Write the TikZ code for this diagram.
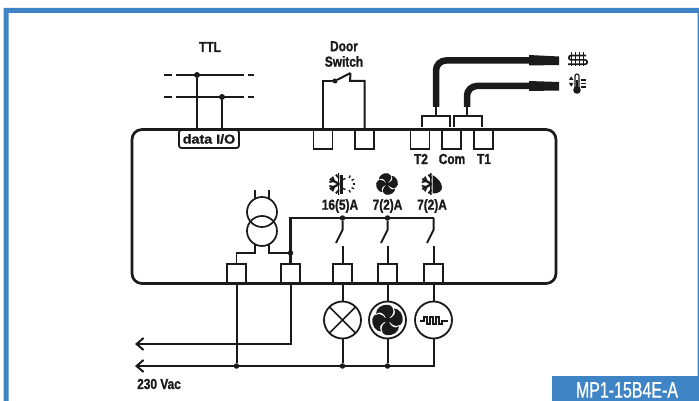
\documentclass[tikz,border=0pt]{standalone}
\usepackage{fontspec}
\usetikzlibrary{arrows.meta}
\newfontfamily\lblfont[FakeStretch=0.82,BoldFeatures={FakeBold=1.2}]{Liberation Sans}
\newfontfamily\wideFont[FakeStretch=1.1,BoldFeatures={FakeBold=1.5}]{Liberation Sans}
\newfontfamily\badgeFont[FakeStretch=0.71,FakeBold=0.8]{Liberation Sans}
\definecolor{frameblue}{HTML}{3F85C6}
\definecolor{ink}{HTML}{1A1A1A}
\newcommand{\halfsnow}[4]{% cx, cy, r, clip right x
  \begin{scope}
    \clip (#1-#3-2,#2-#3-2) rectangle (#4,#2+#3+2);
    \foreach \a in {30,90,150,210,270,330}{
      \begin{scope}[shift={(#1,#2)},rotate=\a]
        \draw[line width=2.3pt,ink] (0,0) -- (#3,0);
        \draw[line width=1.9pt,ink] (#3*0.55,0) -- +(40:#3*0.45);
        \draw[line width=1.9pt,ink] (#3*0.55,0) -- +(-40:#3*0.45);
      \end{scope}}
  \end{scope}}
\newcommand{\fanshape}[3]{% cx, cy, r
  \foreach \a in {0,90,180,270}{
    \begin{scope}[shift={(#1,#2)},rotate=\a,x=#3pt,y=#3pt]
      \fill[ink] (0.05,-0.05) .. controls (-0.5,-0.28) and (-0.52,-0.88) .. (-0.05,-0.98)
        .. controls (0.35,-1.04) and (0.76,-0.74) .. (0.74,-0.4)
        .. controls (0.5,-0.6) and (0.22,-0.46) .. (0.05,-0.05) -- cycle;
    \end{scope}}
  \fill[ink] (#1,#2) circle (#3*0.2pt);}
\tikzset{
  term/.style={draw=ink,line width=1.5pt,minimum width=19pt,minimum height=19pt,inner sep=0pt,outer sep=0pt},
  lbl/.style={inner sep=0pt,text=ink,font=\lblfont\bfseries\fontsize{14.5}{16}\selectfont,align=center},
  wire/.style={draw=ink,line width=2pt},
  thickwire/.style={draw=ink,line width=2.5pt},
  cable/.style={draw=ink,line width=6.5pt,rounded corners=10pt},
  dot/.style={circle,fill=ink,minimum size=6pt,inner sep=0pt,outer sep=0pt},
  load/.style={circle,draw=ink,line width=1.8pt,minimum size=37pt,inner sep=0pt,outer sep=0pt,fill=white},
  coil/.style={circle,draw=ink,line width=1.7pt,minimum size=30pt,inner sep=0pt,outer sep=0pt},
  bus/.style={dash pattern=on 8pt off 4pt on 68pt off 4pt on 6pt,draw=ink,line width=2.3pt},
  feed/.style={wire,-{Straight Barb[length=7pt,width=12pt,line width=2pt]}}
}
\begin{document}
\begin{tikzpicture}[x=1pt,y=-1pt]
\useasboundingbox (0,0) rectangle (699,401);
\clip (0,0) rectangle (699,401);
% frame
\fill[frameblue] (3.6,401) -- (3.6,8) -- (699,8) -- (699,401) -- (697.6,401) -- (697.6,13) -- (8.7,13) -- (8.7,401) -- cycle;
\node[fill=frameblue,minimum width=147pt,minimum height=25pt,inner sep=0pt,outer sep=0pt,anchor=north west] (badge) at (552,376) {};
\node[anchor=center,inner sep=0pt,text=white,font=\badgeFont\fontsize{22.5}{24}\selectfont] (badgetext) at (627,390) {MP1-15B4E-A};
% controller
\node[draw=ink,line width=2.7pt,rounded corners=10pt,minimum width=424pt,minimum height=154pt,inner sep=0pt,outer sep=0pt] (ctrl) at (344,206.5) {};
% top terminals
\node[term] (ds1) at (323,139.5) {};
\node[term] (ds2) at (364.5,139.5) {};
\node[term] (t2) at (420,139.5) {};
\node[term] (com) at (451.5,139.5) {};
\node[term] (t1) at (483.5,139.5) {};
\node[lbl] (lt2) at (421,159) {T2};
\node[lbl] (lcom) at (452,159) {Com};
\node[lbl] (lt1) at (484,159) {T1};
% data
\node[draw=ink,fill=white,line width=1.8pt,rounded corners=2.5pt,minimum width=60pt,minimum height=18pt,inner sep=0pt,outer sep=0pt,text=ink,font=\wideFont\bfseries\fontsize{13}{15}\selectfont] (data) at (209,139) {data I/O};
% TTL
\node[lbl] (ttl) at (210,47) {TTL};
\coordinate (a1) at (164,75); \coordinate (b1) at (254,75);
\coordinate (a2) at (164,97); \coordinate (b2) at (254,97);
\draw[bus] (a1) -- (b1);
\draw[bus] (a2) -- (b2);
\node[dot] (n1) at (197,75) {};
\node[dot] (n2) at (222,97) {};
\draw[thickwire] (n1) -- (n1 |- data.north);
\draw[thickwire] (n2) -- (n2 |- data.north);
% door switch
\node[lbl] (door) at (344,54) {Door\\[-0.5pt]Switch};
\node[dot,minimum size=5pt] (sw1) at (335,81) {};
\coordinate (sw2) at (350.5,73);
\coordinate (sw3) at (350,81);
\draw[wire] (ds1.north) -- (ds1.north |- sw1) -- (sw1);
\draw[wire] (ds2.north) -- (ds2.north |- sw3) -- (sw3) -- (sw2);
\draw[wire] (sw1) -- (sw2);
% probes
\coordinate (p1) at (529,60.5); \coordinate (p2) at (529,86);
\coordinate (c1) at (436,107); \coordinate (c2) at (467,107);
\draw[cable] (c1) -- (c1 |- p1) -- (p1);
\draw[cable] (c2) -- (c2 |- p2) -- (p2);
\fill[ink] (529,55) -- (559,56.5) -- (559,65) -- (529,65.5) -- cycle;
\fill[ink] (529,81) -- (559,82) -- (559,90.5) -- (529,91) -- cycle;
\coordinate (j1) at (436,116); \coordinate (j2) at (467,116);
\draw[wire,line width=1.5pt] (c1) -- (j1);
\draw[wire,line width=1.5pt] (c2) -- (j2);
\draw[wire,line width=1.5pt] (422,127) -- (422,116) -- (450,116) -- (450,127);
\draw[wire,line width=1.5pt] (454,127) -- (454,116) -- (482,116) -- (482,127);
% evaporator icon
\draw[ink,line width=1.7pt] (586,55.5) -- (571,55.5) arc[start angle=90,end angle=270,radius=2.2pt] -- (585,59.9) arc[start angle=-90,end angle=-270,radius=-2.2pt] -- (568,64.3);
\foreach \x in {571.5,575.5,579.5,583.5}{\draw[ink,line width=1.5pt] (\x,52.5) -- (\x,66.5);}
% thermometer icon
\draw[ink,line width=1.2pt,fill=white] (575,88) -- (575,76) arc[start angle=180,end angle=0,radius=2pt] -- (579,88);
\fill[ink] (577,90) circle (3.8pt);
\fill[ink] (576,80) rectangle (578,88);
\fill[ink] (569,80) -- (573.4,80) -- (571.2,76.3) -- cycle;
\fill[ink] (569,83) -- (573.4,83) -- (571.2,86.7) -- cycle;
\foreach \y in {80,83.5,87}{\draw[ink,line width=1.2pt] (581,\y) -- (586,\y);}
% output terminals
\node[term] (o1) at (236.5,273.5) {};
\node[term] (o2) at (290.5,273.5) {};
\node[term] (o3) at (342.5,273.5) {};
\node[term] (o4) at (387.5,273.5) {};
\node[term] (o5) at (433.5,273.5) {};
% transformer
\node[coil] (tra) at (262,212) {};
\node[coil] (trb) at (262,231) {};
\coordinate (lead1) at (255,190); \coordinate (lead2) at (269,190);
\draw[wire,line width=1.7pt] (lead1) -- (255,198);
\draw[wire,line width=1.7pt] (lead2) -- (269,198);
\node[dot,minimum size=5.5pt] (tap) at (290.5,253) {};
\draw[wire,line width=1.7pt] (255,245) -- (255,253) -- (236.5,253) -- (o1.north);
\draw[wire,line width=1.7pt] (269,245) -- (269,253) -- (tap);
% bus
\coordinate (corner) at (o2.north |- 0,218);
\coordinate (end) at (433.5,218);
\node[dot,minimum size=5.5pt] (s1) at (342.5,218) {};
\node[dot,minimum size=5.5pt] (s2) at (387.5,218) {};
\draw[thickwire,line width=2.8pt] (o2.north) -- (corner) -- (end);
\foreach \n/\x in {a/342.5,b/387.5,c/433.5}{
  \coordinate (h\n) at (\x,230);
  \coordinate (bl\n) at (\x-6.5,243);
  \coordinate (fx\n) at (\x,246);
}
\draw[wire] (s1) -- (ha) -- (bla);
\draw[wire] (s2) -- (hb) -- (blb);
\draw[wire] (end) -- (hc) -- (blc);
\draw[wire] (fxa) -- (o3.north);
\draw[wire] (fxb) -- (o4.north);
\draw[wire] (fxc) -- (o5.north);
% loads
\node[load] (lamp) at (342.5,320) {};
\node[load] (fan) at (387.5,320) {};
\node[load] (wave) at (433.5,320) {};
\draw[ink,line width=1.5pt] (lamp.45) -- (lamp.225) (lamp.135) -- (lamp.315);
\fanshape{387.5}{320}{15.5}
\draw[ink,line width=2pt] (419.5,320.5) -- (424,320.5) -- (424,317) -- (427,317) -- (427,324) -- (430,324) -- (430,317) -- (433,317) -- (433,324) -- (436,324) -- (436,317) -- (439,317) -- (439,324) -- (442,324) -- (442,320.5) -- (447.5,320.5);
\draw[wire] (o3.south) -- (lamp.north);
\draw[wire] (o4.south) -- (fan.north);
\draw[wire] (o5.south) -- (wave.north);
% mains
\coordinate (arr1) at (135,344);
\coordinate (arr2) at (135,366);
\node[dot,minimum size=5.5pt] (m1) at (236.5,366) {};
\node[dot,minimum size=5.5pt] (m2) at (342.5,366) {};
\node[dot,minimum size=5.5pt] (m3) at (387.5,366) {};
\draw[feed] (o2.south) -- (o2.south |- arr1) -- (arr1);
\draw[feed] (wave.south) -- (wave.south |- arr2) -- (arr2);
\draw[wire] (o1.south) -- (m1);
\draw[wire] (lamp.south) -- (m2);
\draw[wire] (fan.south) -- (m3);
\node[lbl,anchor=west] (vac) at (137,384) {230 Vac};
% ratings
\node[lbl] (r1) at (340,206) {16(5)A};
\node[lbl] (r2) at (387.5,206) {7(2)A};
\node[lbl] (r3) at (432,206) {7(2)A};
% icons
\halfsnow{339}{184}{10.5}{339.2}
\fill[ink] (340,175) rectangle (343,193.5);
\draw[ink,line width=1.3pt] (345.5,178.5) arc[start angle=-90,end angle=90,radius=-5.5pt];
\foreach \a in {-60,-30,0,30,60}{\draw[ink,line width=1.3pt] (345.5,184) ++(\a:7pt) -- ++(\a:2.8pt);}
\fanshape{387}{184}{11}
\halfsnow{431.5}{184}{10.5}{431.5}
\fill[ink] (432.5,175) .. controls (438,178) and (442,183) .. (442,187.5) .. controls (442,191) and (438,194) .. (432.5,193.5) -- cycle;
\end{tikzpicture}
\end{document}
